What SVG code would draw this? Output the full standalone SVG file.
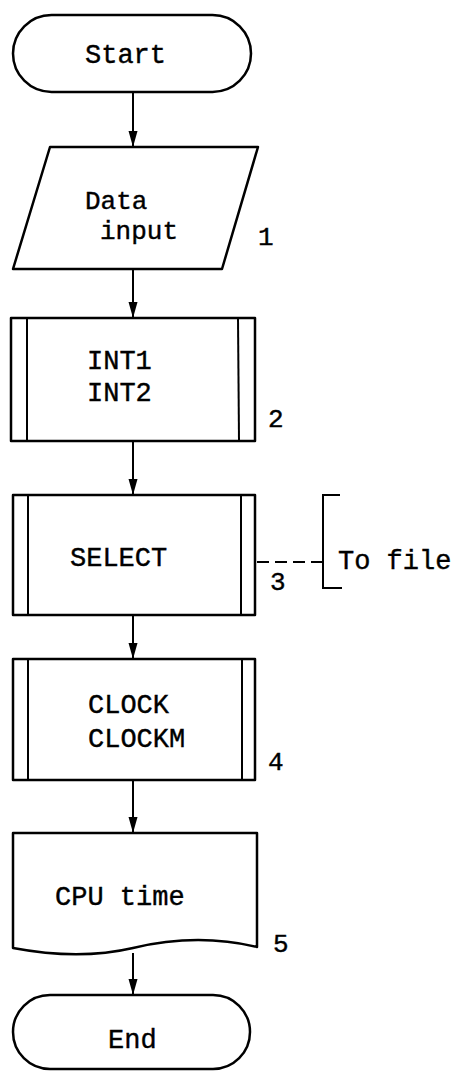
<svg xmlns="http://www.w3.org/2000/svg" width="457" height="1073" viewBox="0 0 457 1073">
<defs>
<style>
.s{fill:none;stroke:#000;stroke-width:2.5;stroke-linejoin:round}
.l{fill:none;stroke:#000;stroke-width:2}
.t{font-family:"Liberation Mono","Courier New",monospace;font-size:27px;fill:#000;stroke:#000;stroke-width:0.4}
.n{font-family:"Liberation Mono","Courier New",monospace;font-size:26px;fill:#000;stroke:#000;stroke-width:0.4}
.d{font-size:26px}
</style>
<marker id="arr" viewBox="0 0 16 10" refX="16" refY="5" markerWidth="16" markerHeight="10" markerUnits="userSpaceOnUse" orient="auto">
<path d="M0,0.5 L16,5 L0,9.5 Z" fill="#000"/>
</marker>
</defs>
<rect width="457" height="1073" fill="#fff"/>
<g id="connectors">
<line class="l" x1="133" y1="92" x2="133" y2="147" marker-end="url(#arr)"/>
<line class="l" x1="133" y1="270" x2="133" y2="318" marker-end="url(#arr)"/>
<line class="l" x1="133" y1="441" x2="133" y2="495" marker-end="url(#arr)"/>
<line class="l" x1="133" y1="615" x2="133" y2="659" marker-end="url(#arr)"/>
<line class="l" x1="133" y1="780" x2="133" y2="833" marker-end="url(#arr)"/>
<line class="l" x1="133" y1="953" x2="133" y2="995" marker-end="url(#arr)"/>
<line class="l" x1="257" y1="562" x2="322" y2="562" stroke-dasharray="12,6"/>
</g>
<g id="start">
<rect class="s" x="13" y="15" width="238" height="77" rx="38.5"/>
<text class="t" x="85" y="63">Start</text>
</g>
<g id="data-input">
<path class="s" d="M50,147 L258,147 L222,269 L13,269 Z"/>
<text class="t d" x="85" y="209">Data</text>
<text class="t d" x="100" y="239">input</text>
<text class="n" x="258" y="245">1</text>
</g>
<g id="int">
<rect class="s" x="11" y="318" width="244" height="123"/>
<line class="l" x1="27" y1="318" x2="27" y2="441"/>
<line class="l" x1="238" y1="318" x2="239" y2="441"/>
<text class="t" x="87" y="369">INT1</text>
<text class="t" x="87" y="401">INT2</text>
<text class="n" x="268" y="427">2</text>
</g>
<g id="select">
<rect class="s" x="13" y="495" width="242" height="120"/>
<line class="l" x1="28" y1="495" x2="28" y2="615"/>
<line class="l" x1="241" y1="495" x2="241" y2="615"/>
<text class="t" x="70" y="566">SELECT</text>
<text class="n" x="270" y="590">3</text>
</g>
<g id="to-file">
<path class="l" d="M340,495 L323,495 L323,588 L342,588"/>
<text class="t" x="338" y="569">To file</text>
</g>
<g id="clock">
<rect class="s" x="13" y="659" width="242" height="121"/>
<line class="l" x1="28" y1="659" x2="28" y2="780"/>
<line class="l" x1="242" y1="659" x2="242" y2="780"/>
<text class="t" x="88" y="713">CLOCK</text>
<text class="t" x="88" y="747">CLOCKM</text>
<text class="n" x="268" y="770">4</text>
</g>
<g id="cpu-time">
<path class="s" d="M13,833 L257,833 L257,947 C215,937 175,938 133,948 C90,958 50,955 13,948 Z"/>
<text class="t" x="55" y="905">CPU time</text>
<text class="n" x="273" y="952">5</text>
</g>
<g id="end">
<rect class="s" x="13" y="995" width="237" height="74" rx="37"/>
<text class="t" x="108" y="1048">End</text>
</g>
</svg>
